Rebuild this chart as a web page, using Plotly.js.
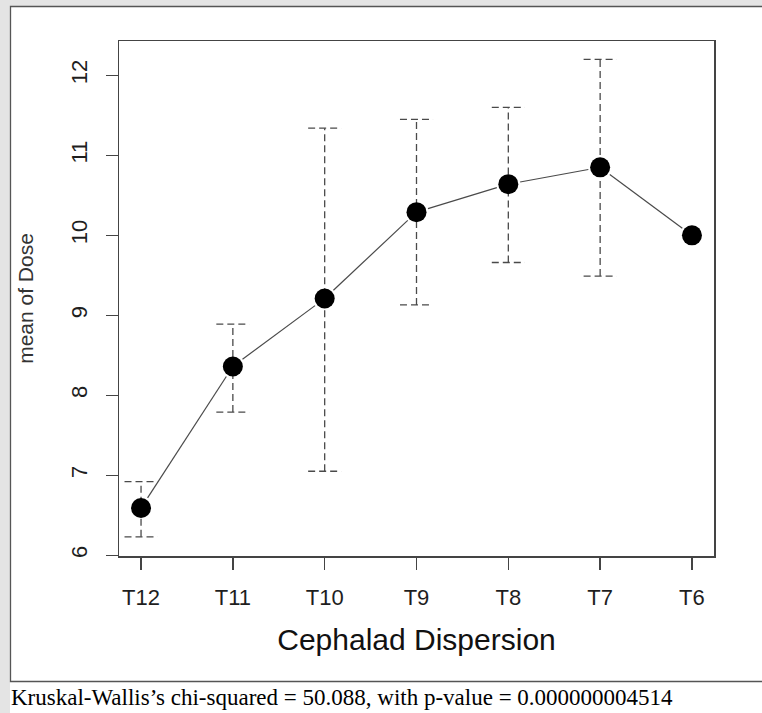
<!DOCTYPE html>
<html>
<head>
<meta charset="utf-8">
<script src="https://cdn.plot.ly/plotly-3.0.1.min.js"></script>
<style>html,body{margin:0;padding:0;background:#e4e4e4;}#chart{width:762px;height:713px;}</style>
</head>
<body>
<div id="chart"></div>
<script>
// ---- data ----
const categories = ["T12", "T11", "T10", "T9", "T8", "T7", "T6"];
const meanDose   = [6.59, 8.36, 9.21, 10.29, 10.64, 10.85, 10.0];
const ciLower    = [6.23, 7.79, 7.05, 9.13, 9.66, 9.49, null];
const ciUpper    = [6.92, 8.89, 11.34, 11.45, 11.60, 12.20, null];
const yTicks     = [6, 7, 8, 9, 10, 11, 12];
const footnote   = "Kruskal-Wallis’s chi-squared = 50.088, with p-value = 0.000000004514";

// ---- geometry (layout only) ----
const W = 762, H = 713;
const M = {l: 119, r: 48, t: 41, b: 157};
const pw = W - M.l - M.r, ph = H - M.t - M.b;
const xr = [-0.24, 6.24], yr = [5.99, 12.43];
const xs = pw / (xr[1] - xr[0]), ys = ph / (yr[1] - yr[0]);
const px = p => (p - M.l) / pw;          // pixel -> paper x
const py = p => (M.t + ph - p) / ph;     // pixel -> paper y

const idx = categories.map((_, i) => i);

// dashed error bars built from the CI arrays
const capHalf = 0.18;
const ex = [], ey = [];
idx.forEach(i => {
  if (ciLower[i] == null || ciUpper[i] == null) return;
  ex.push(i, i, null, i - capHalf, i + capHalf, null, i - capHalf, i + capHalf, null);
  ey.push(ciLower[i], ciUpper[i], null, ciLower[i], ciLower[i], null, ciUpper[i], ciUpper[i], null);
});

// connecting line segments with small gaps at the points (type = "b")
const gap = 12;
const lx = [], ly = [];
for (let i = 0; i < idx.length - 1; i++) {
  const dxp = (idx[i + 1] - idx[i]) * xs, dyp = (meanDose[i + 1] - meanDose[i]) * ys;
  const L = Math.hypot(dxp, dyp), f = gap / L;
  const ddx = idx[i + 1] - idx[i], ddy = meanDose[i + 1] - meanDose[i];
  lx.push(idx[i] + ddx * f, idx[i + 1] - ddx * f, null);
  ly.push(meanDose[i] + ddy * f, meanDose[i + 1] - ddy * f, null);
}

const traces = [
  {x: ex, y: ey, type: "scatter", mode: "lines", hoverinfo: "skip",
   line: {color: "#4a4a4a", width: 1.3, dash: "7px,4px"}, connectgaps: false},
  {x: lx, y: ly, type: "scatter", mode: "lines", hoverinfo: "skip",
   line: {color: "#4a4a4a", width: 1.2}, connectgaps: false},
  {x: idx, y: meanDose, type: "scatter", mode: "markers",
   marker: {color: "#000", size: 20}}
];

const layout = {
  width: W, height: H,
  margin: M,
  paper_bgcolor: "#e4e4e4",
  plot_bgcolor: "#ffffff",
  showlegend: false,
  font: {family: "Liberation Sans, Arial, sans-serif", color: "#1e1e1e"},
  xaxis: {
    range: xr, tickvals: idx, ticktext: categories,
    showgrid: false, zeroline: false,
    showline: true, mirror: true, linecolor: "#444", linewidth: 1.5,
    ticks: "outside", ticklen: 12, tickwidth: 1.3, tickcolor: "#444",
    tickfont: {size: 22, color: "#1e1e1e"}, ticklabelstandoff: 9,
    title: {text: "Cephalad Dispersion", font: {size: 30, color: "#111"}, standoff: 20}
  },
  yaxis: {
    range: yr, tickvals: yTicks, ticktext: yTicks.map(String),
    showgrid: false, zeroline: false,
    showline: true, mirror: true, linecolor: "#444", linewidth: 1.5,
    ticks: "outside", ticklen: 12, tickwidth: 1.3, tickcolor: "#444",
    tickangle: -90, tickfont: {size: 22, color: "#1e1e1e"}, ticklabelstandoff: 10,
    title: {text: "mean of Dose", font: {size: 21, color: "#333"}, standoff: 27}
  },
  shapes: [
    {type: "rect", xref: "paper", yref: "paper", layer: "below",
     x0: px(10), x1: px(780), y0: py(730), y1: py(6),
     fillcolor: "#ffffff", line: {width: 0}},
    {type: "rect", xref: "paper", yref: "paper", layer: "below",
     x0: px(10.5), x1: px(780), y0: py(681.5), y1: py(6.5),
     fillcolor: "rgba(0,0,0,0)", line: {color: "#555", width: 1.3}}
  ],
  annotations: [
    {text: footnote, xref: "paper", yref: "paper", x: px(9), y: py(697),
     xanchor: "left", yanchor: "middle", showarrow: false,
     font: {family: "Liberation Serif, Times New Roman, serif", size: 23, color: "#000"}}
  ]
};

Plotly.newPlot("chart", traces, layout, {displayModeBar: false, staticPlot: true});
</script>
</body>
</html>
